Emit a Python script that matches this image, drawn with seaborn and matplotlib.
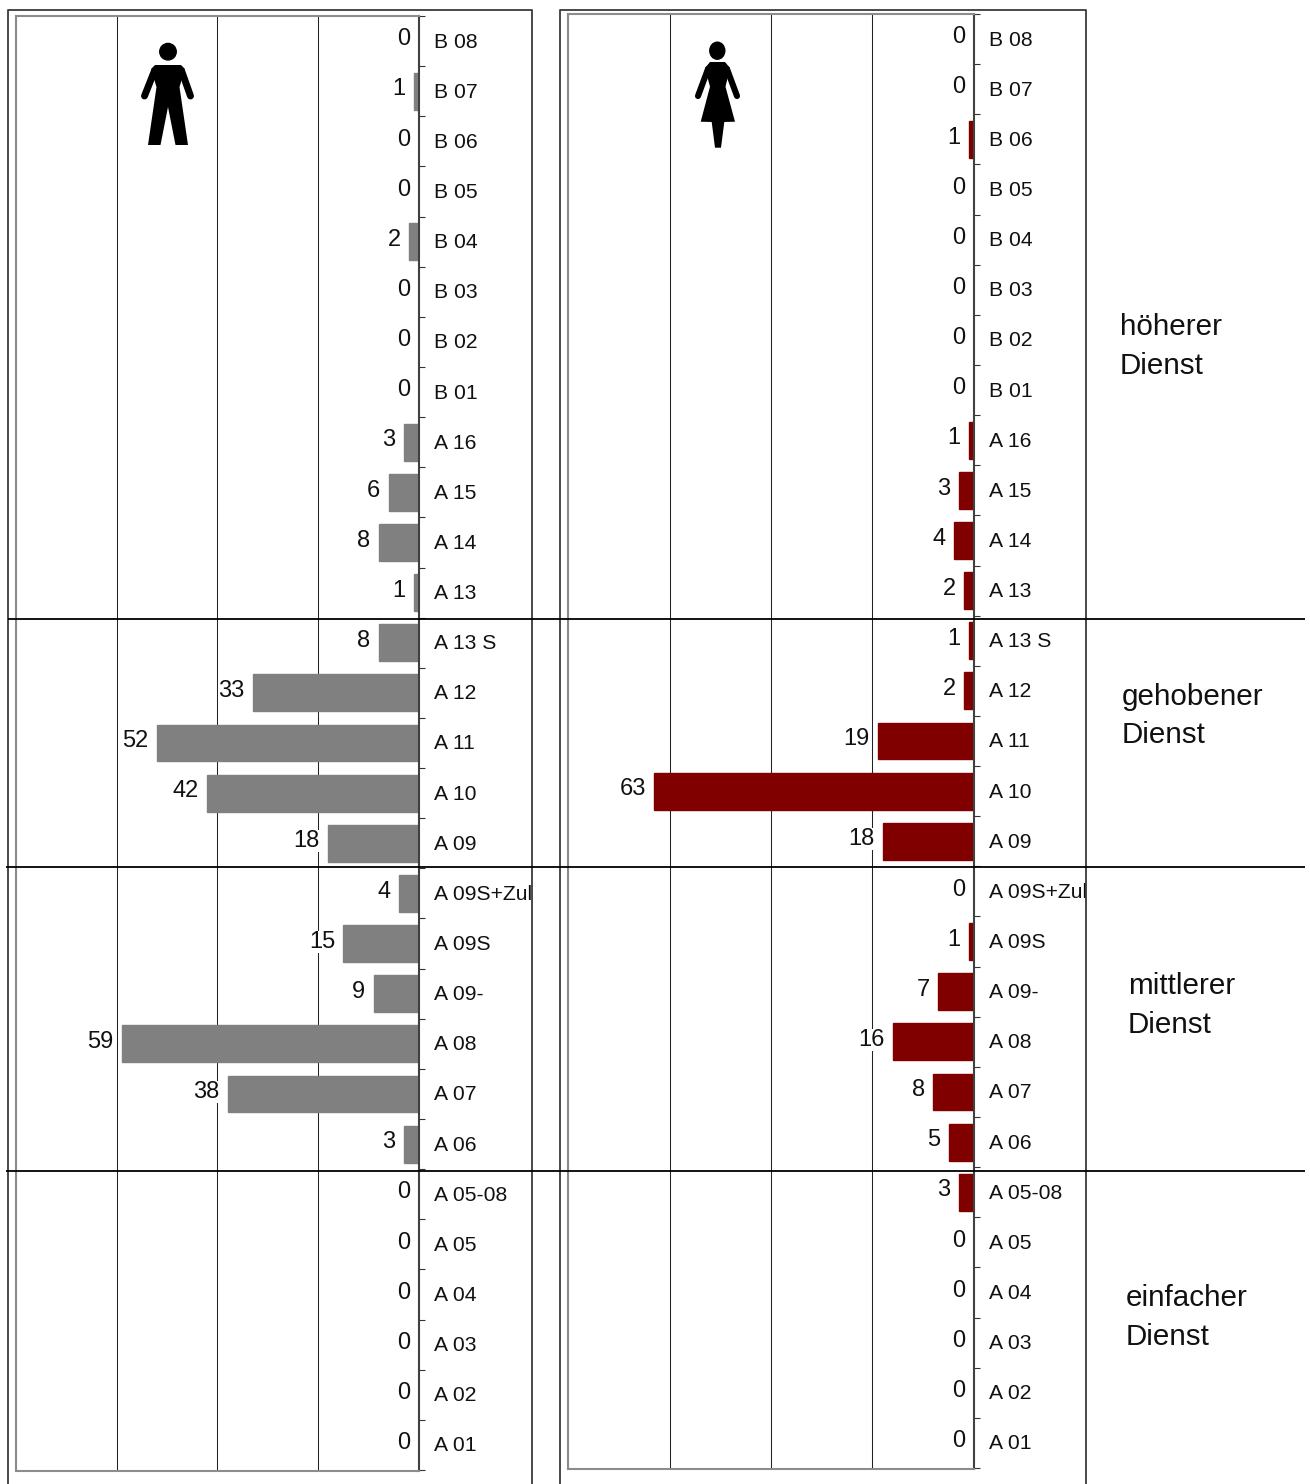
import matplotlib
matplotlib.use("Agg")
import matplotlib.pyplot as plt
from matplotlib.patches import Ellipse, Polygon
from matplotlib.transforms import ScaledTranslation
import numpy as np
import pandas as pd
import seaborn as sns

grades = ["B 08", "B 07", "B 06", "B 05", "B 04", "B 03", "B 02", "B 01",
          "A 16", "A 15", "A 14", "A 13", "A 13 S", "A 12", "A 11", "A 10", "A 09",
          "A 09S+Zul", "A 09S", "A 09-", "A 08", "A 07", "A 06",
          "A 05-08", "A 05", "A 04", "A 03", "A 02", "A 01"]
men = [0, 1, 0, 0, 2, 0, 0, 0, 3, 6, 8, 1, 8, 33, 52, 42, 18, 4, 15, 9, 59, 38, 3, 0, 0, 0, 0, 0, 0]
women = [0, 0, 1, 0, 0, 0, 0, 0, 1, 3, 4, 2, 1, 2, 19, 63, 18, 0, 1, 7, 16, 8, 5, 3, 0, 0, 0, 0, 0]
groups = ["höherer\nDienst", "gehobener\nDienst", "mittlerer\nDienst", "einfacher\nDienst"]

sns.set_theme(style="white")
plt.rcParams["font.family"] = ["Liberation Sans", "DejaVu Sans"]

W, H = 1310, 1484
fig = plt.figure(figsize=(W / 100, H / 100), dpi=100, facecolor="white")


def panel(x0, x1, y0, y1, values, color):
    ax = fig.add_axes([x0 / W, 1 - y1 / H, (x1 - x0) / W, (y1 - y0) / H])
    df = pd.DataFrame({"grade": grades, "n": values})
    sns.barplot(data=df, y="grade", x="n", orient="h", color=color, saturation=1,
                width=0.735, ax=ax, errorbar=None, edgecolor=color, linewidth=1.0)
    ax.set_xlim(80, 0)
    ax.set_ylim(len(grades) - 0.5 + 0.02, -0.5 + 0.02)
    ax.set_xlabel("")
    ax.set_ylabel("")
    ax.set_xticks([0, 20, 40, 60, 80])
    ax.set_xticklabels([])
    ax.tick_params(axis="x", length=0)
    ax.grid(axis="x", color="#222222", lw=0.75)
    ax.grid(axis="y", visible=False)
    ax.set_axisbelow(True)
    ax.yaxis.tick_right()
    ax.set_yticks(np.arange(len(grades)))
    ax.set_yticklabels(grades, fontsize=15.2, color="#111111")
    ax.tick_params(axis="y", which="major", length=0, pad=10.8, right=True, left=False)
    ax.set_yticks(np.arange(len(grades) + 1) - 0.5, minor=True)
    ax.tick_params(axis="y", which="minor", length=4.5, width=0.8, color="#333333",
                   right=True, left=False, direction="out")
    up = ScaledTranslation(0, 1 / 100, fig.dpi_scale_trans)
    for lab in ax.get_yticklabels():
        lab.set_transform(lab.get_transform() + up)
    for s in ("top", "left", "bottom"):
        ax.spines[s].set_color("#8c8c8c")
        ax.spines[s].set_linewidth(1.5)
    ax.spines["right"].set_color("#404040")
    ax.spines["right"].set_linewidth(1.5)
    for i, v in enumerate(values):
        ax.annotate(str(v), (v, i), xytext=(-6.0, 1.3), textcoords="offset points",
                    ha="right", va="center", fontsize=17, color="#111111",
                    bbox=dict(facecolor="white", edgecolor="none", pad=0.0))
    return ax


panel(16, 419, 16, 1471, men, "#808080")
panel(568, 974, 14, 1469, women, "#800000")

ov = fig.add_axes([0, 0, 1, 1], facecolor="none")
ov.set_xlim(0, W)
ov.set_ylim(H, 0)
ov.axis("off")

# outer frames and service-group separators
frame = dict(color="#3a3a3a", lw=1.3, solid_capstyle="butt")
for xs in ((8, 532), (560, 1086)):
    ov.plot([xs[0], xs[0], xs[1], xs[1]], [H, 9.5, 9.5, H], **frame)
sep = dict(color="black", lw=1.3, solid_capstyle="butt")
ov.plot([8, 1305], [619, 619], **sep)
ov.plot([6, 1305], [867, 867], **sep)
ov.plot([6, 1305], [1171, 1171], **sep)

# group captions
for txt, x, y in zip(groups, (1120, 1122, 1128, 1126), (346.5, 716, 1005.5, 1317.5)):
    ov.text(x, y, txt, fontsize=21.3, color="#111111", ha="left", va="center", linespacing=1.49)

# man pictogram
ov.add_patch(Ellipse((168, 51.7), 16.5, 16.5, color="black"))
ov.add_patch(Polygon([(155, 65), (181, 65), (185, 69), (179.5, 87), (188, 145), (175.5, 145),
                      (168, 107), (160.5, 145), (148, 145), (156.5, 87), (151, 69)], color="black", lw=0))
for a, b in (((154, 72), (144.5, 96)), ((182, 72), (190.5, 96))):
    ov.plot([a[0], b[0]], [a[1], b[1]], color="black", lw=5, solid_capstyle="round")

# woman pictogram
ov.add_patch(Ellipse((717.3, 50.7), 15, 17, color="black"))
ov.add_patch(Polygon([(710, 62), (725, 62), (730, 68), (725.5, 86.7), (735, 121.7), (724.3, 122),
                      (721, 147.7), (715, 147.7), (711.7, 122), (700.7, 121.7), (710, 86.7), (705, 68)],
                     color="black", lw=0))
for a, b in (((708, 69), (698, 96)), ((727, 69), (737, 96))):
    ov.plot([a[0], b[0]], [a[1], b[1]], color="black", lw=4.4, solid_capstyle="round")

fig.savefig("out.png", dpi=100)
